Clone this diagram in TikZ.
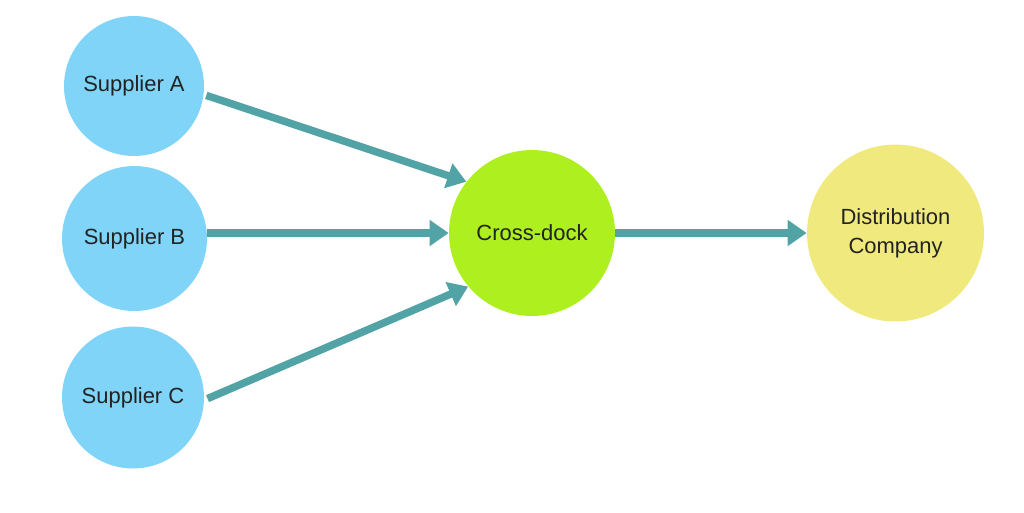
\documentclass[tikz,border=0pt]{standalone}
\usepackage{fontspec}
\setmainfont{Liberation Sans}
\usetikzlibrary{arrows.meta}
\definecolor{supplierblue}{HTML}{7FD4F8}
\definecolor{dockgreen}{HTML}{ADEF1F}
\definecolor{distyellow}{HTML}{F0EA7E}
\definecolor{flowteal}{HTML}{52A3A5}
\definecolor{labeltext}{HTML}{222222}
\begin{document}
\begin{tikzpicture}[x=0.02cm,y=-0.02cm]
\tikzstyle{site}=[circle, draw=none, inner sep=0pt, text=labeltext, align=center,
    font=\fontsize{12.5}{16.5}\selectfont]
\tikzstyle{flow}=[draw=flowteal, line width=0.15cm,
    -{Triangle[length=0.38cm,width=0.5cm]}]

\useasboundingbox (0,0) rectangle (1024,512);

\node[site, fill=supplierblue, minimum size=2.8cm] (A) at (134, 86) {Supplier A};
\node[site, fill=supplierblue, minimum size=2.9cm] (B) at (134.5, 238.5) {Supplier B};
\node[site, fill=supplierblue, minimum size=2.84cm] (C) at (133, 397.5) {Supplier C};
\node[site, fill=dockgreen, minimum size=3.32cm] (X) at (532, 233) {Cross-dock};
\node[site, fill=distyellow, minimum size=3.54cm] (D) at (895.5, 233) {Distribution\\Company};

\draw[flow, shorten <=1.5pt] (A.-7) -- (X.142);
\draw[flow] (B.east |- X.west) -- (X.west);
\draw[flow, shorten <=2pt] (C.-2) -- (X.220);
\draw[flow] (X.east) -- (D.west);

\end{tikzpicture}
\end{document}
